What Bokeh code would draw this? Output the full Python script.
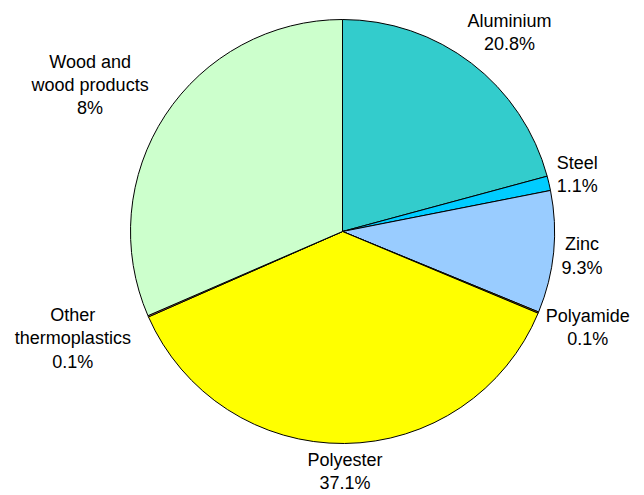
import math
from bokeh.plotting import figure
from bokeh.models import ColumnDataSource
from bokeh.core.properties import value
from bokeh.embed import file_html
from bokeh.resources import INLINE

# ---- data ----
materials = ["Aluminium", "Steel", "Zinc", "Polyamide", "Polyester",
             "Other\nthermoplastics", "Wood and\nwood products"]
shares = [20.8, 1.1, 9.3, 0.1, 37.1, 0.1, 31.5]          # drawn slice sizes
pct_labels = ["20.8%", "1.1%", "9.3%", "0.1%", "37.1%", "0.1%", "8%"]
colors = ["#33CCCC", "#00CCFF", "#99CCFF", "#CC9900", "#FFFF00",
          "#FF9966", "#CCFFCC"]

W, H = 644, 495
CX, CY, R = 342, H - 231, 212
FS = 18
LINE_H = 24
GAP = 8
LEFT_PAD = 10

# approximate Arial / Liberation Sans advance widths (1/1000 em)
CW = {" ": 278, "%": 889, ".": 278, "A": 667, "O": 778, "P": 667, "S": 667,
      "W": 944, "Z": 611, "c": 500, "i": 222, "l": 222, "m": 833, "r": 333,
      "s": 500, "t": 278, "w": 722, "y": 500}


def text_w(t):
    return sum(CW.get(ch, 556) for ch in t) * FS / 1000.0


total = sum(shares)
starts, ends, lx, ly, texts = [], [], [], [], []
cum = 0.0
for name, s, pl in zip(materials, shares, pct_labels):
    a0 = math.pi / 2 - 2 * math.pi * cum / total
    cum += s
    a1 = math.pi / 2 - 2 * math.pi * cum / total
    starts.append(a1)
    ends.append(a0)
    mid = (a0 + a1) / 2
    dx, dy = math.cos(mid), math.sin(mid)
    lines = name.split("\n") + [pl]
    half_w = max(text_w(t) for t in lines) / 2
    half_h = len(lines) * LINE_H / 2
    ax = CX + dx * (R + GAP)
    ay = CY + dy * (R + GAP)
    ox = math.copysign(min(1.0, 1.3 * abs(dx)), dx) * half_w
    if dx < -0.3:
        ox -= LEFT_PAD
    oy = math.copysign(min(1.0, 1.3 * abs(dy)), dy) * half_h
    lx.append(ax + ox)
    ly.append(max(ay + oy, half_h))   # keep the block inside the canvas
    texts.append("\n".join(lines))

src = ColumnDataSource(dict(start=starts, end=ends, color=colors,
                            x=[CX] * len(shares), y=[CY] * len(shares)))
lab = ColumnDataSource(dict(x=lx, y=ly, text=texts))

p = figure(width=W, height=H, x_range=(0, W), y_range=(0, H),
           output_backend="svg", toolbar_location=None, min_border=0)
p.axis.visible = False
p.grid.visible = False
p.outline_line_color = None
p.background_fill_color = "white"

p.wedge(x="x", y="y", radius=R, radius_units="screen",
        start_angle="start", end_angle="end", direction="anticlock",
        fill_color="color", line_color="black", line_width=1, source=src)

p.text(x="x", y="y", text="text", source=lab, text_align="center",
       text_baseline="middle", text_font=value("Liberation Sans"),
       text_font_size=f"{FS}px", text_color="black",
       text_line_height=LINE_H / (FS * 1.143))

open("out.html", "w").write(file_html(p, INLINE))
